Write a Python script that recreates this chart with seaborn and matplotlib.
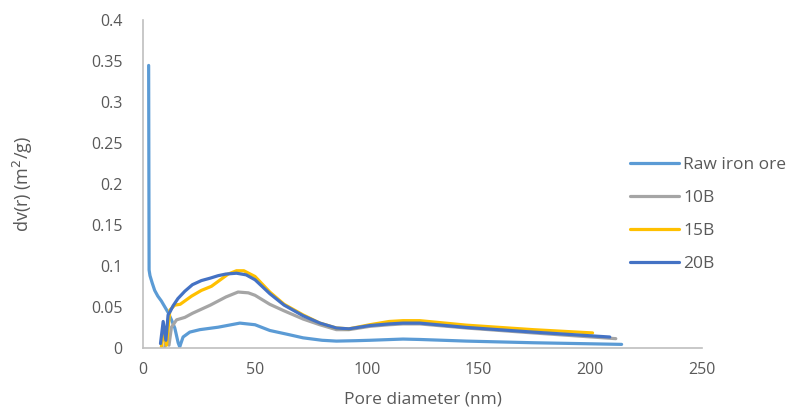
import matplotlib
matplotlib.use("Agg")
import matplotlib.pyplot as plt
import seaborn as sns
import pandas as pd

# ---- data ----
series_names = ["Raw iron ore", "10B", "15B", "20B"]

raw_x = [2.4, 2.6, 3.0, 4.0, 5.1, 6.5, 8.1, 9.6, 11.1, 12.6, 14.1, 15.6, 16.3, 17.8, 20.8, 25.3,
         33.5, 43.2, 50, 56.6, 65, 71.5, 80, 86.4, 95, 101.3, 116.2, 123.7, 144.6, 174.4, 214]
raw_y = [0.345, 0.095, 0.088, 0.079, 0.070, 0.063, 0.057, 0.050, 0.043, 0.034, 0.024, 0.006, 0.001,
         0.013, 0.019, 0.022, 0.025, 0.030, 0.028, 0.021, 0.016, 0.012, 0.009, 0.008, 0.0085, 0.009,
         0.0105, 0.010, 0.008, 0.006, 0.004]

b10_x = [9.6, 10.6, 11.5, 12.6, 14.9, 18.6, 22, 26, 30, 33.5, 37, 42.4, 47, 50, 56.6, 63, 71.5,
         79, 86.4, 92, 101.3, 110, 116.2, 123.7, 144.6, 174.4, 211.4]
b10_y = [0.0, 0.015, 0.003, 0.025, 0.034, 0.037, 0.042, 0.047, 0.052, 0.057, 0.062, 0.068, 0.067,
         0.064, 0.053, 0.045, 0.035, 0.028, 0.022, 0.022, 0.026, 0.028, 0.029, 0.029, 0.024, 0.018, 0.011]

b15_x = [8.1, 9.2, 10.4, 11.9, 14.1, 16.5, 21.6, 26, 30.5, 35, 38, 41.7, 45, 50, 56.6, 63, 71.5,
         79, 86.4, 92, 101.3, 110, 116.2, 123.7, 144.6, 174.4, 201]
b15_y = [0.001, 0.021, 0.003, 0.046, 0.052, 0.053, 0.063, 0.070, 0.075, 0.084, 0.090, 0.094, 0.094,
         0.087, 0.068, 0.053, 0.040, 0.030, 0.024, 0.023, 0.028, 0.032, 0.033, 0.033, 0.0275, 0.022, 0.018]

b20_x = [7.7, 8.9, 10.1, 11.1, 12.2, 13.3, 15.5, 18.6, 22, 26, 30, 33.5, 37, 41.7, 46, 50, 56.6,
         63, 71.5, 79, 86.4, 92, 101.3, 110, 116.2, 123.7, 144.6, 174.4, 208.7]
b20_y = [0.005, 0.032, 0.009, 0.040, 0.045, 0.051, 0.060, 0.069, 0.077, 0.082, 0.085, 0.088, 0.090,
         0.091, 0.089, 0.083, 0.066, 0.052, 0.039, 0.030, 0.024, 0.023, 0.027, 0.029, 0.030, 0.030,
         0.0247, 0.019, 0.013]

x_ticks = [0, 50, 100, 150, 200, 250]
y_ticks = [0, 0.05, 0.1, 0.15, 0.2, 0.25, 0.3, 0.35, 0.4]
y_tick_labels = ["0", "0.05", "0.1", "0.15", "0.2", "0.25", "0.3", "0.35", "0.4"]

colors = ["#5B9BD5", "#A5A5A5", "#FFC000", "#4472C4"]

frames = []
for name, xs, ys in zip(series_names, [raw_x, b10_x, b15_x, b20_x], [raw_y, b10_y, b15_y, b20_y]):
    frames.append(pd.DataFrame({"x": xs, "y": ys, "series": name}))
df = pd.concat(frames, ignore_index=True)

sns.set_theme(style="white")
plt.rcParams["font.family"] = ["Open Sans", "DejaVu Sans"]

fig = plt.figure(figsize=(7.96, 4.09), dpi=100)
ax = fig.add_axes([0.180, 0.150, 0.702, 0.800])

sns.lineplot(data=df, x="x", y="y", hue="series", hue_order=series_names,
             palette=colors, sort=False, estimator=None, units="series",
             linewidth=2.3, ax=ax, legend=True)

ax.set_xlim(0, 250)
ax.set_ylim(0, 0.4)
ax.set_xticks(x_ticks)
ax.set_yticks(y_ticks)
ax.set_yticklabels(y_tick_labels)
ax.tick_params(axis="both", length=0, labelsize=11.5, labelcolor="#595959")
ax.tick_params(axis="y", pad=15)
ax.tick_params(axis="x", pad=10)

for s in ["top", "right"]:
    ax.spines[s].set_visible(False)
for s in ["left", "bottom"]:
    ax.spines[s].set_color("#BFBFBF")
    ax.spines[s].set_linewidth(1.2)

ax.set_xlabel("Pore diameter (nm)", fontsize=12.5, color="#595959", labelpad=10)
ax.set_ylabel("dv(r) (m$^2$/g)", fontsize=13, color="#595959", labelpad=40)

handles, labels = ax.get_legend_handles_labels()
leg = ax.legend(handles, labels, loc="upper left", bbox_to_anchor=(0.792, 0.617),
                bbox_transform=fig.transFigure, frameon=False, fontsize=12.5,
                handlelength=2.8, handletextpad=0.23, labelspacing=0.97, borderaxespad=0,
                borderpad=0)
for t in leg.get_texts():
    t.set_color("#595959")
for l in leg.get_lines():
    l.set_linewidth(2.3)

fig.savefig("out.png", dpi=100)
